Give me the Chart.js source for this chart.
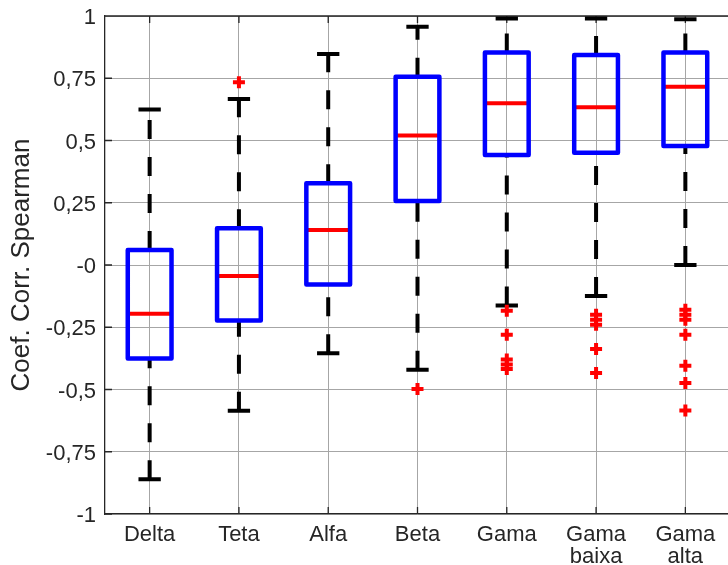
<!DOCTYPE html>
<html>
<head>
<meta charset="utf-8">
<title>Coef. Corr. Spearman</title>
<script src="https://cdn.jsdelivr.net/npm/chart.js@4/dist/chart.umd.min.js"></script>
<style>
    html, body { margin: 0; padding: 0; overflow: hidden; background: #fff; }
</style>
</head>
<body>
<canvas id="chart" width="740" height="565"></canvas>
<script>
// values
const categories = ["Delta", "Teta", "Alfa", "Beta", "Gama", ["Gama", "baixa"], ["Gama", "alta"]];
const lowerWhisker = [-0.86, -0.585, -0.354, -0.421, -0.163, -0.124, 0.0];
const q1 = [-0.376, -0.223, -0.078, 0.257, 0.442, 0.451, 0.478];
const median = [-0.196, -0.044, 0.141, 0.52, 0.65, 0.634, 0.716];
const q3 = [0.06, 0.148, 0.328, 0.756, 0.853, 0.843, 0.853];
const upperWhisker = [0.625, 0.667, 0.847, 0.957, 0.99, 0.99, 0.987];
const outliers = [
    [],
    [0.734],
    [],
    [-0.498],
    [-0.184, -0.28, -0.38, -0.40, -0.418],
    [-0.2, -0.22, -0.24, -0.337, -0.434],
    [-0.18, -0.2, -0.22, -0.28, -0.405, -0.474, -0.584]
];
const yTicks = [1, 0.75, 0.5, 0.25, 0, -0.25, -0.5, -0.75, -1];
const yTickLabels = ["1", "0,75", "0,5", "0,25", "-0", "-0,25", "-0,5", "-0,75", "-1"];

const FONT = "'Liberation Sans', Arial, sans-serif";
const TEXT = "#262626";
const boxHalf = 0.245;
const capHalf = 0.125;
const gap = (x) => ({ x: x, y: null });

const boxPts = [], medianPts = [], capPts = [], whiskerPts = [], outlierPts = [];
categories.forEach((c, k) => {
    const x = k + 1;
    boxPts.push(
        { x: x - boxHalf, y: q1[k] }, { x: x + boxHalf, y: q1[k] },
        { x: x + boxHalf, y: q3[k] }, { x: x - boxHalf, y: q3[k] },
        { x: x - boxHalf, y: q1[k] }, gap(x)
    );
    medianPts.push({ x: x - boxHalf, y: median[k] }, { x: x + boxHalf, y: median[k] }, gap(x));
    capPts.push(
        { x: x - capHalf, y: lowerWhisker[k] }, { x: x + capHalf, y: lowerWhisker[k] }, gap(x),
        { x: x - capHalf, y: upperWhisker[k] }, { x: x + capHalf, y: upperWhisker[k] }, gap(x)
    );
    // matlab draws both whiskers bottom-up, so the dashes start at the lower end
    whiskerPts.push(
        { x: x, y: lowerWhisker[k] }, { x: x, y: q1[k] }, gap(x),
        { x: x, y: q3[k] }, { x: x, y: upperWhisker[k] }, gap(x)
    );
    outliers[k].forEach(v => outlierPts.push({ x: x, y: v }));
});

// top border of the box and the inward tick marks
const axesBox = {
    id: "axesBox",
    beforeDatasetsDraw(chart) {
        const { ctx, chartArea: a, scales } = chart;
        ctx.save();
        ctx.strokeStyle = TEXT;
        ctx.lineWidth = 1.3;
        ctx.beginPath();
        ctx.moveTo(a.left, a.top);
        ctx.lineTo(a.right, a.top);
        scales.x.ticks.forEach(t => {
            const px = scales.x.getPixelForValue(t.value);
            ctx.moveTo(px, a.bottom);
            ctx.lineTo(px, a.bottom - 7);
            ctx.moveTo(px, a.top);
            ctx.lineTo(px, a.top + 7);
        });
        scales.y.ticks.forEach(t => {
            const py = scales.y.getPixelForValue(t.value);
            ctx.moveTo(a.left, py);
            ctx.lineTo(a.left + 7, py);
        });
        ctx.stroke();
        ctx.restore();
    }
};

const lineSet = (data, color, width, extra) => Object.assign({
    data: data,
    borderColor: color,
    borderWidth: width,
    pointRadius: 0,
    fill: false,
    tension: 0,
    spanGaps: false
}, extra || {});

new Chart(document.getElementById("chart"), {
    type: "line",
    data: {
        datasets: [
            {
                data: outlierPts,
                showLine: false,
                pointStyle: "cross",
                pointRadius: 6,
                pointBorderWidth: 4,
                pointBorderColor: "#ff0000",
                pointBackgroundColor: "#ff0000"
            },
            lineSet(boxPts, "#0000ff", 4.5, { borderJoinStyle: "round", borderCapStyle: "round" }),
            lineSet(medianPts, "#ff0000", 4),
            lineSet(capPts, "#000000", 4),
            lineSet(whiskerPts, "#000000", 4, { borderDash: [19, 18] })
        ]
    },
    options: {
        responsive: false,
        animation: false,
        events: [],
        layout: { padding: { top: 16, right: 2, left: 0, bottom: 0 } },
        plugins: { legend: { display: false }, tooltip: { enabled: false } },
        scales: {
            x: {
                type: "linear",
                min: 0.5,
                max: 7.5,
                afterFit: (s) => { s.height = 51; s.paddingLeft = 0; s.paddingRight = 0; },
                afterBuildTicks: (s) => { s.ticks = categories.map((c, i) => ({ value: i + 1 })); },
                grid: { color: "#a6a6a6", lineWidth: 1, drawTicks: false },
                border: { color: TEXT, width: 1.3 },
                ticks: {
                    autoSkip: false,
                    maxRotation: 0,
                    padding: 10,
                    color: TEXT,
                    font: { family: FONT, size: 22, lineHeight: 1.0 },
                    callback: (v) => categories[Math.round(v) - 1]
                }
            },
            y: {
                min: -1,
                max: 1,
                afterFit: (s) => { s.width = 105; s.paddingTop = 0; s.paddingBottom = 0; },
                afterBuildTicks: (s) => { s.ticks = yTicks.map(v => ({ value: v })); },
                grid: { color: "#a6a6a6", lineWidth: 1, drawTicks: false },
                border: { color: TEXT, width: 1.3 },
                ticks: {
                    padding: 9,
                    labelOffset: 2,
                    color: TEXT,
                    font: { family: FONT, size: 22 },
                    callback: (v) => yTickLabels[yTicks.indexOf(v)]
                },
                title: {
                    display: true,
                    text: "Coef. Corr. Spearman",
                    color: TEXT,
                    font: { family: FONT, size: 26 },
                    padding: { top: 6, bottom: 0 }
                }
            }
        }
    },
    plugins: [axesBox]
});
</script>
</body>
</html>
